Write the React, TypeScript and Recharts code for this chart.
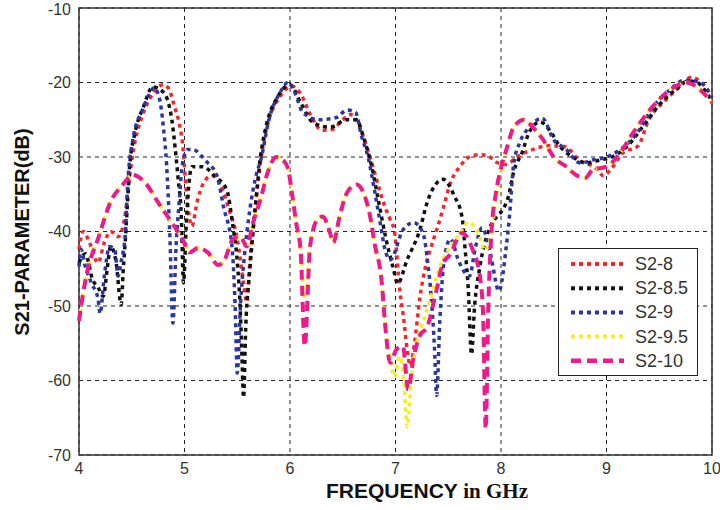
import React from "react";
import {
  LineChart,
  Line,
  XAxis,
  YAxis,
  CartesianGrid,
  ReferenceArea,
  Legend,
  Label,
} from "recharts";

// [frequency GHz, S21 dB]
const s2_8: [number, number][] = [
  [4.0, -42.4], [4.04, -40], [4.1, -41.5], [4.18, -44.2], [4.24, -41.5], [4.3, -40],
  [4.37, -40.7], [4.44, -37.5], [4.48, -32.6], [4.53, -28], [4.6, -24.5], [4.7, -21.5],
  [4.8, -20.3], [4.85, -20.8], [4.9, -23], [4.95, -25.5], [4.98, -28], [5.02, -35],
  [5.07, -39.3], [5.12, -36], [5.18, -33.5], [5.26, -32.5], [5.35, -34], [5.42, -37],
  [5.5, -41], [5.56, -47], [5.59, -49.5], [5.62, -44], [5.66, -38], [5.7, -33],
  [5.75, -28], [5.8, -25], [5.9, -22], [6.02, -20.5], [6.1, -21.5], [6.2, -24.5],
  [6.3, -26.4], [6.4, -26.3], [6.5, -25], [6.57, -24.3], [6.63, -25], [6.7, -27.5],
  [6.78, -31], [6.85, -34.5], [6.9, -36.7], [6.95, -38.4], [6.99, -40], [7.04, -47.8],
  [7.08, -52], [7.11, -55.8], [7.14, -58], [7.18, -55], [7.23, -49], [7.28, -45],
  [7.33, -42.4], [7.39, -39.8], [7.45, -37], [7.52, -33.5], [7.61, -31.3], [7.7, -30],
  [7.8, -29.7], [7.87, -29.8], [7.97, -30.8], [8.05, -31], [8.15, -30], [8.3, -29],
  [8.45, -28.5], [8.6, -28.6], [8.75, -30.5], [8.9, -31.5], [8.97, -32.5], [9.05, -31.5],
  [9.15, -29.5], [9.3, -28.5], [9.4, -25], [9.55, -22.5], [9.7, -20.5], [9.8, -19.3],
  [9.9, -20], [10.0, -22],
];

const s2_85: [number, number][] = [
  [4.0, -44.2], [4.06, -43], [4.13, -46.5], [4.18, -47.5], [4.23, -48.7], [4.27, -44.7],
  [4.3, -42], [4.35, -44], [4.4, -49.8], [4.42, -45], [4.44, -41], [4.46, -36],
  [4.48, -31.3], [4.53, -26.8], [4.61, -23.3], [4.7, -20.6], [4.8, -21.3], [4.88, -25],
  [4.91, -28.6], [4.94, -33], [4.97, -38], [4.99, -46.9], [5.02, -38], [5.07, -31.3],
  [5.17, -31.3], [5.29, -32.6], [5.4, -34.4], [5.46, -39.4], [5.5, -44], [5.53, -51],
  [5.545, -57], [5.56, -62.3], [5.58, -53], [5.62, -45], [5.67, -37], [5.72, -30],
  [5.78, -25.5], [5.88, -22], [6.0, -20.3], [6.1, -22.7], [6.22, -25.4], [6.38, -26],
  [6.54, -25], [6.63, -25], [6.7, -27.5], [6.77, -31], [6.84, -36], [6.91, -41],
  [6.98, -45], [7.02, -47], [7.11, -43.8], [7.23, -39.8], [7.3, -36.1], [7.39, -33.5],
  [7.45, -33], [7.56, -35.3], [7.63, -38], [7.66, -42.4], [7.69, -47.8], [7.72, -56.5],
  [7.75, -50], [7.8, -44.7], [7.88, -40], [7.96, -38], [8.02, -37], [8.07, -35.3],
  [8.12, -32], [8.2, -29.4], [8.27, -26.6], [8.37, -25.3], [8.46, -26.4], [8.56, -28.6],
  [8.68, -30], [8.81, -30.8], [8.94, -30.4], [9.05, -30], [9.2, -28.5], [9.35, -25.8],
  [9.5, -23], [9.65, -21], [9.78, -19.8], [9.86, -20], [9.95, -21.4], [10.0, -22.5],
];

const s2_9: [number, number][] = [
  [4.0, -44.7], [4.02, -42.4], [4.06, -44.7], [4.12, -47], [4.18, -49], [4.2, -51],
  [4.24, -46], [4.29, -42], [4.34, -42.5], [4.37, -46], [4.4, -44], [4.44, -40.2],
  [4.46, -34], [4.51, -27.7], [4.6, -23.7], [4.67, -21.5], [4.71, -20.7], [4.76, -22],
  [4.8, -26], [4.83, -31], [4.86, -40], [4.89, -52.3], [4.92, -42], [4.95, -36],
  [4.98, -31], [5.03, -29], [5.08, -29], [5.2, -30.5], [5.31, -32.6], [5.37, -36.7],
  [5.45, -42], [5.48, -50], [5.5, -59], [5.53, -50], [5.57, -43], [5.62, -37],
  [5.67, -33], [5.73, -30], [5.8, -25], [5.9, -21.5], [5.98, -20], [6.05, -21.5],
  [6.12, -24], [6.28, -25], [6.44, -24.7], [6.54, -23.7], [6.62, -24], [6.68, -27.3],
  [6.74, -30], [6.8, -34.4], [6.85, -38.4], [6.9, -42.4], [6.95, -43.8], [7.07, -39.8],
  [7.17, -38.8], [7.26, -40.2], [7.31, -44.7], [7.34, -49], [7.37, -55.8], [7.39, -62],
  [7.42, -52], [7.46, -44], [7.52, -41], [7.6, -44], [7.7, -46], [7.76, -42],
  [7.82, -39.5], [7.9, -43], [7.98, -48], [8.05, -42], [8.08, -38], [8.12, -31],
  [8.18, -28], [8.27, -26], [8.39, -24.8], [8.5, -27.7], [8.62, -29], [8.75, -30.8],
  [8.87, -30.4], [9.0, -30], [9.13, -29], [9.29, -26.8], [9.44, -23.3], [9.6, -21],
  [9.74, -19.7], [9.89, -20], [10.0, -22],
];

const s2_95: [number, number][] = [
  [4.0, -52], [4.05, -47.4], [4.09, -44.7], [4.18, -41], [4.3, -36], [4.41, -33.8],
  [4.51, -32.4], [4.63, -33.5], [4.75, -36.1], [4.88, -38.8], [4.98, -41], [5.05, -42.8],
  [5.13, -42.2], [5.22, -42.8], [5.32, -44.5], [5.38, -43.8], [5.46, -41], [5.53, -40.7],
  [5.59, -42], [5.65, -38.8], [5.72, -35.7], [5.79, -32], [5.87, -30], [5.94, -30.5],
  [5.98, -31.5], [6.02, -35], [6.06, -39], [6.1, -42.4], [6.14, -49], [6.19, -42],
  [6.26, -38.4], [6.31, -38], [6.38, -40.2], [6.41, -41.5], [6.47, -38], [6.54, -34.8],
  [6.63, -33.7], [6.71, -35.3], [6.76, -38], [6.8, -41.5], [6.87, -46.9], [6.9, -52.2],
  [6.95, -57], [6.99, -59.5], [7.04, -56.8], [7.08, -60], [7.11, -66.2], [7.15, -60],
  [7.2, -55], [7.26, -52.2], [7.33, -49], [7.39, -46], [7.44, -44], [7.52, -42],
  [7.6, -40.5], [7.69, -38.8], [7.78, -40], [7.85, -42.5], [7.9, -41], [7.95, -36],
  [8.0, -32], [8.06, -28.6], [8.12, -26], [8.22, -25], [8.3, -26], [8.4, -27.7],
  [8.5, -30], [8.62, -31.3], [8.72, -32.5], [8.8, -32.8], [8.87, -31.7], [9.0, -31.3],
  [9.1, -30], [9.25, -26.8], [9.41, -23.7], [9.6, -21], [9.76, -20], [9.89, -21],
  [10.0, -22.7],
];

const s2_10: [number, number][] = [
  [4.0, -52], [4.05, -47.4], [4.09, -44.7], [4.18, -41], [4.3, -36], [4.41, -33.8],
  [4.51, -32.4], [4.63, -33.5], [4.75, -36.1], [4.88, -38.8], [4.98, -41], [5.05, -42.8],
  [5.13, -42.2], [5.22, -42.8], [5.32, -44.5], [5.38, -43.8], [5.46, -41], [5.53, -40.7],
  [5.59, -42], [5.65, -38.8], [5.72, -35.7], [5.79, -32], [5.87, -30], [5.94, -30.5],
  [5.98, -31.5], [6.02, -35], [6.06, -39], [6.1, -42.4], [6.14, -55.4], [6.19, -42],
  [6.26, -38.4], [6.31, -38], [6.38, -40.2], [6.41, -41.5], [6.47, -38], [6.54, -34.8],
  [6.63, -33.7], [6.71, -35.3], [6.76, -38], [6.8, -41.5], [6.87, -46.9], [6.9, -52.2],
  [6.95, -57.6], [7.01, -55.8], [7.07, -55.4], [7.12, -61.2], [7.17, -57], [7.23, -54],
  [7.3, -52.8], [7.39, -47.8], [7.44, -44.7], [7.52, -43], [7.63, -40.2], [7.73, -42.4],
  [7.8, -46], [7.83, -51], [7.855, -66.5], [7.88, -50], [7.91, -40], [7.95, -35],
  [8.0, -31.5], [8.06, -28.6], [8.12, -26], [8.22, -25], [8.3, -26], [8.4, -27.7],
  [8.5, -30], [8.62, -31.3], [8.72, -32.5], [8.8, -32.8], [8.87, -31.7], [9.0, -31.3],
  [9.1, -30], [9.25, -26.8], [9.41, -23.7], [9.6, -21], [9.76, -20], [9.89, -21],
  [10.0, -22.7],
];

const freqTicks = [4, 5, 6, 7, 8, 9, 10];
const dbTicks = [-70, -60, -50, -40, -30, -20, -10];

const series = [
  { name: "S2-8", points: s2_8, color: "#f2262b", dash: "4 4", width: 3.5 },
  { name: "S2-8.5", points: s2_85, color: "#111111", dash: "4 4", width: 3.5 },
  { name: "S2-9", points: s2_9, color: "#2a37a3", dash: "4 4", width: 3.5 },
  { name: "S2-9.5", points: s2_95, color: "#f6ee1c", dash: "4 4", width: 3.5 },
  { name: "S2-10", points: s2_10, color: "#ec1a8c", dash: "10 6", width: 4 },
];

const toRows = (pts: [number, number][]) => pts.map(([f, db]) => ({ f, db }));

const tickStyle = { fontFamily: "Arial, 'Liberation Sans', sans-serif", fontSize: 16, fill: "#333" };

// legend rows follow the series order, not the library's sorted payload
const renderLegend = () => (
  <div
    style={{
      width: 140,
      height: 128,
      background: "#fff",
      border: "1.5px solid #222",
      boxSizing: "border-box",
    }}
  >
    <svg width={137} height={125}>
      {series.map((s, i) => {
        const y = 15 + i * 24.2;
        return (
          <g key={`legend-${i}`}>
            <line
              x1={12}
              x2={65}
              y1={y}
              y2={y}
              stroke={s.color}
              strokeWidth={s.width + 0.5}
              strokeDasharray={s.dash}
            />
            <text
              x={76}
              y={y + 6}
              fontFamily="Arial, 'Liberation Sans', sans-serif"
              fontSize={18}
              fill="#333"
            >
              {s.name}
            </text>
          </g>
        );
      })}
    </svg>
  </div>
);

const XTitle = () => (
  <text x={427} y={498} textAnchor="middle" fill="#111" fontWeight="bold" fontSize={21}>
    <tspan fontFamily="Arial, 'Liberation Sans', sans-serif">FREQUENCY </tspan>
    <tspan fontFamily="'Liberation Serif', 'Times New Roman', serif">in GHz</tspan>
  </text>
);

const YTitle = () => (
  <text
    transform="translate(29,232) rotate(-90)"
    textAnchor="middle"
    fill="#111"
    fontWeight="bold"
    fontSize={20}
    fontFamily="Arial, 'Liberation Sans', sans-serif"
  >
    S21-PARAMETER(dB)
  </text>
);

export default function App() {
  return (
    <div style={{ position: "absolute", left: 0, top: 0, width: 720, height: 510, background: "#fff" }}>
      <LineChart width={720} height={510} margin={{ top: 8, right: 8, left: 19, bottom: 25 }}>
        <CartesianGrid stroke="#222" strokeDasharray="4 4" strokeWidth={1} />
        <XAxis
          dataKey="f"
          type="number"
          domain={[4, 10]}
          ticks={freqTicks}
          tick={tickStyle}
          tickLine={false}
          axisLine={false}
          height={30}
          allowDuplicatedCategory={false}
        >
          <Label content={<XTitle />} />
        </XAxis>
        <YAxis
          type="number"
          domain={[-70, -10]}
          ticks={dbTicks}
          tick={tickStyle}
          tickLine={false}
          axisLine={false}
          width={60}
        >
          <Label content={<YTitle />} />
        </YAxis>
        <ReferenceArea x1={4} x2={10} y1={-70} y2={-10} fill="none" stroke="#333" strokeWidth={1.5} />
        {series.map((s) => (
          <Line
            key={s.name}
            name={s.name}
            data={toRows(s.points)}
            dataKey="db"
            type="monotone"
            stroke={s.color}
            strokeWidth={s.width}
            strokeDasharray={s.dash}
            dot={false}
            activeDot={false}
            isAnimationActive={false}
          />
        ))}
        <Legend
          content={renderLegend}
          layout="horizontal"
          verticalAlign="middle"
          align="center"
          wrapperStyle={{ left: 558, top: 248, width: 140, height: 128 }}
        />
      </LineChart>
    </div>
  );
}
